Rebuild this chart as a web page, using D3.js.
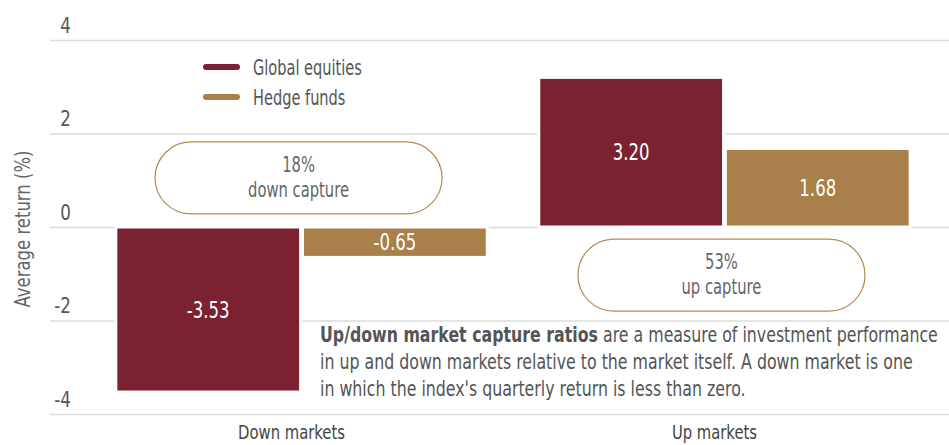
<!DOCTYPE html>
<meta charset="utf-8">
<head>
    <title>Up/down market capture</title>
    <style>
        html, body { margin: 0; padding: 0; background: #fff; }
        body {
          font-family: "DejaVu Sans", sans-serif;
          color: #555;
        }
        #chart .grid line { stroke: #dcdcdc; stroke-width: 1.5; }
        #chart .grid .domain { display: none; }
        #chart .grid text { fill: #555; font-size: 22px; font-family: "DejaVu Sans", sans-serif; }
        #chart .bar { stroke: #fff; stroke-width: 3; }
        #chart .bar-label { fill: #fff; font-size: 23px; text-anchor: middle; }
        #chart .pill rect { fill: #fff; stroke: #b58a4f; stroke-width: 1.2; }
        #chart .pill text { fill: #666; font-size: 20.5px; text-anchor: middle; }
        #chart .legend text { fill: #555; font-size: 21px; }
        #chart .cat { fill: #444; font-size: 20px; text-anchor: middle; }
        #chart .note { fill: #555; font-size: 21px; }
    </style>
</head>
<body>
    <svg id="chart" width="949" height="445"></svg>
    <script src="https://cdn.jsdelivr.net/npm/d3@7"></script>
    <script>
        // data
        const categories = ['Down markets', 'Up markets'];
        const series = ['Global equities', 'Hedge funds'];
        const globalEquities = [-3.53, 3.20];
        const hedgeFunds = [-0.65, 1.68];
        const yTicks = [-4, -2, 0, 2, 4];
        const captureLabels = [['18%', 'down capture'], ['53%', 'up capture']];
        const captureAt = [1.05, -1.03];   // pill centre, in return units
        const noteLines = [
            [['Up/down market capture ratios', true], [' are a measure of investment performance', false]],
            [['in up and down markets relative to the market itself. A down market is one', false]],
            [['in which the index\'s quarterly return is less than zero.', false]]
        ];

        const colors = { 'Global equities': '#7a2230', 'Hedge funds': '#a98049' };

        const svg = d3.select('#chart');

        // the reference uses a condensed face, so squeeze DejaVu horizontally
        // around each text's own anchor x
        function squeeze(sel, k) {
            sel.each(function () {
                const x = +(this.getAttribute('x') || 0);
                const t = this.getAttribute('transform') || '';
                this.setAttribute('transform', t + ' translate(' + x + ',0) scale(' + k + ',1) translate(' + (-x) + ',0)');
            });
        }
        function widthOf(node) { return node.getComputedTextLength(); }

        const y = d3.scaleLinear().domain([-4, 4]).range([414, 40]);
        const x0 = d3.scaleBand().domain(categories).range([90, 936])
                    .paddingInner(0.113).paddingOuter(0.0567);
        const x1 = d3.scaleBand().domain(series).range([0, x0.bandwidth()]).padding(0.01);

        // gridlines + tick labels
        const grid = svg.append('g')
            .attr('class', 'grid')
            .attr('transform', 'translate(50,0)')
            .call(d3.axisLeft(y).tickValues(yTicks).tickSize(-899).tickFormat(d => String(d)));
        grid.selectAll('text')
            .attr('x', 21)
            .attr('dy', -8)
            .style('text-anchor', 'end');
        squeeze(grid.selectAll('text'), 0.76);

        // y title
        const yTitle = svg.append('text')
            .attr('transform', 'translate(22,' + (y(0) + 2) + ') rotate(-90)')
            .attr('text-anchor', 'middle')
            .attr('dy', '0.35em')
            .style('font-size', '22px')
            .style('fill', '#666')
            .text('Average return (%)');
        squeeze(yTitle, 157 / widthOf(yTitle.node()));

        // bars
        const rows = categories.map((c, i) => ({
            cat: c,
            vals: [{ s: series[0], v: globalEquities[i] }, { s: series[1], v: hedgeFunds[i] }]
        }));

        const groups = svg.append('g').selectAll('g')
            .data(rows).enter()
            .append('g')
            .attr('transform', d => 'translate(' + x0(d.cat) + ',0)');

        groups.selectAll('rect')
            .data(d => d.vals).enter()
            .append('rect')
            .attr('class', 'bar')
            .attr('x', d => x1(d.s))
            .attr('width', x1.bandwidth())
            .attr('y', d => y(Math.max(0, d.v)))
            .attr('height', d => Math.abs(y(d.v) - y(0)))
            .attr('fill', d => colors[d.s]);

        const barLabels = groups.selectAll('text.bar-label')
            .data(d => d.vals).enter()
            .append('text')
            .attr('class', 'bar-label')
            .attr('x', d => x1(d.s) + x1.bandwidth() / 2)
            .attr('y', d => (y(d.v) + y(0)) / 2)
            .attr('dy', '0.36em')
            .text(d => d.v.toFixed(2));
        squeeze(barLabels, 0.72);

        // capture pills
        const pill = svg.append('g').selectAll('g')
            .data(categories).enter()
            .append('g')
            .attr('class', 'pill')
            .attr('transform', (d, i) => 'translate(' + (x0(d) + x0.bandwidth() / 2 - 3) + ',' + y(captureAt[i]) + ')');
        pill.append('rect')
            .attr('x', -143.5).attr('y', -36)
            .attr('width', 287).attr('height', 72)
            .attr('rx', 36).attr('ry', 36);
        pill.append('text')
            .attr('y', -6)
            .text((d, i) => captureLabels[i][0]);
        const pillSub = pill.append('text')
            .attr('y', 19)
            .text((d, i) => captureLabels[i][1]);
        squeeze(pill.selectAll('text'), 101 / widthOf(pillSub.node()));

        // legend
        const legend = svg.append('g').attr('class', 'legend')
            .selectAll('g').data(series).enter()
            .append('g')
            .attr('transform', (d, i) => 'translate(206,' + (67 + i * 30) + ')');
        legend.append('line')
            .attr('x1', 0).attr('x2', 31)
            .attr('stroke', d => colors[d])
            .attr('stroke-width', 6)
            .attr('stroke-linecap', 'round');
        const legendText = legend.append('text')
            .attr('x', 47)
            .attr('dy', '0.36em')
            .text(d => d);
        squeeze(legendText, 109 / widthOf(legendText.node()));

        // category labels
        const catText = svg.append('g').selectAll('text')
            .data(categories).enter()
            .append('text')
            .attr('class', 'cat')
            .attr('x', d => x0(d) + x0.bandwidth() / 2 - 10)
            .attr('y', 439)
            .text(d => d);
        squeeze(catText, 107 / widthOf(catText.node()));

        // note
        const noteG = svg.append('g');
        const noteText = noteLines.map((line, i) => {
            const t = noteG.append('text').attr('class', 'note')
                .attr('x', 320).attr('y', 342 + i * 27);
            line.forEach(([s, bold]) => {
                const ts = t.append('tspan').text(s);
                if (bold) ts.style('font-weight', 'bold');
            });
            return t;
        });
        squeeze(noteG.selectAll('text'), 618 / widthOf(noteText[0].node()));
    </script>
</body>
</html>
